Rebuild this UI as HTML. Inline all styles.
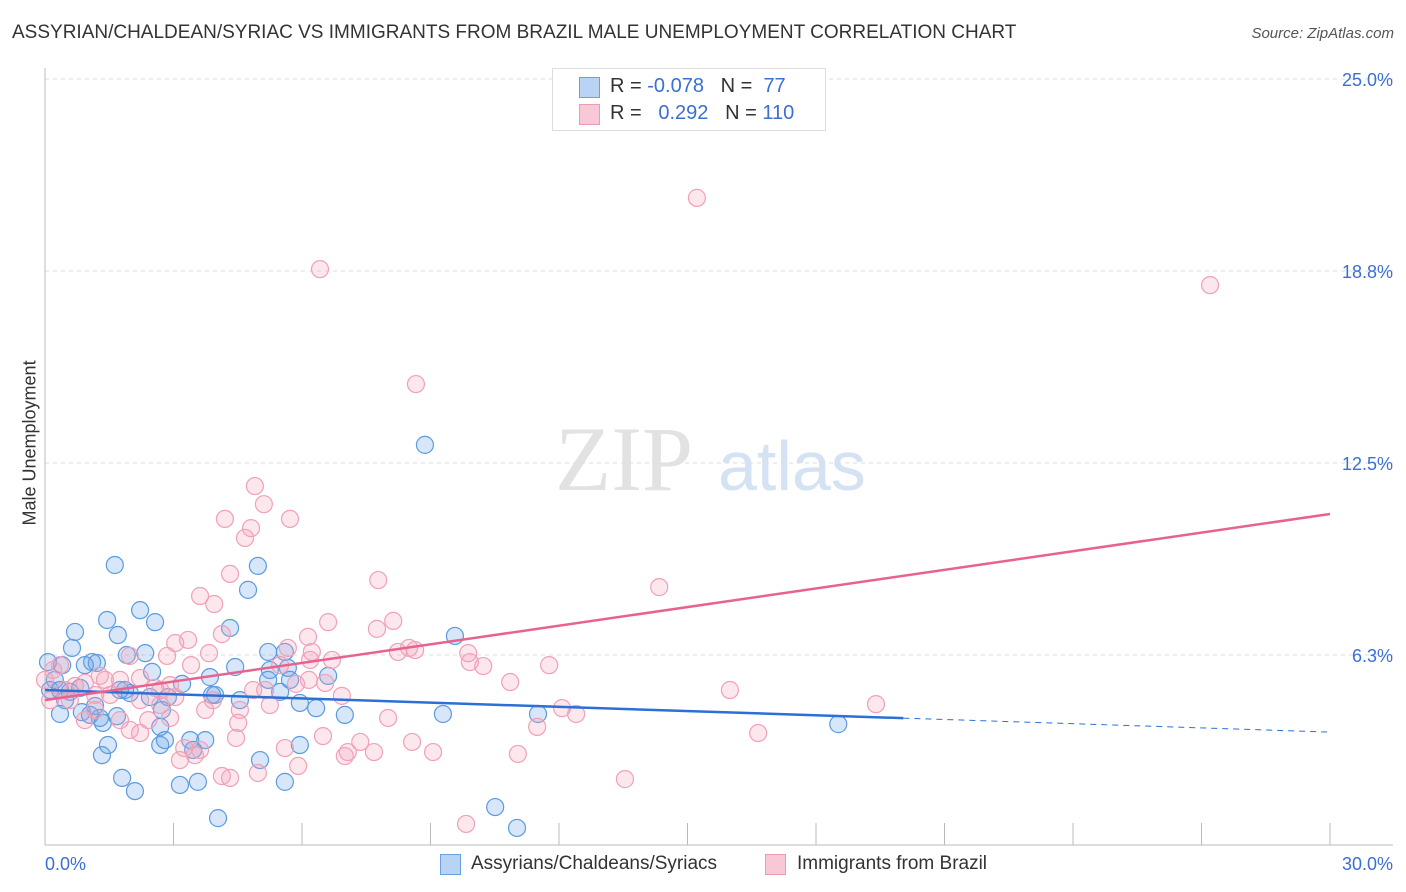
<!DOCTYPE html>
<html><head><meta charset="utf-8"><style>
body{margin:0;background:#fff;font-family:"Liberation Sans",sans-serif}
#wrap{position:relative;width:1406px;height:892px;overflow:hidden}
.t{position:absolute;white-space:nowrap}
</style></head><body>
<div id="wrap">
<div class="t" style="left:12px;top:22px;font-size:19px;color:#333">ASSYRIAN/CHALDEAN/SYRIAC VS IMMIGRANTS FROM BRAZIL MALE UNEMPLOYMENT CORRELATION CHART</div>
<div class="t" style="right:12px;top:25px;font-size:15px;color:#555;font-style:italic">Source: ZipAtlas.com</div>
<div class="t" style="left:-40px;top:445px;font-size:18px;color:#333;transform:rotate(-90deg);width:140px;text-align:center">Male Unemployment</div>
<svg id="svg" width="1406" height="892" style="position:absolute;left:0;top:0">
<text x="555" y="490" font-family="Liberation Serif" font-size="92" fill="#e2e2e2">ZIP</text>
<text x="718" y="490" font-family="Liberation Sans" font-size="70" fill="#d4e2f4">atlas</text>
</svg>
<div style="position:absolute;left:552px;top:68px;width:272px;height:61px;border:1px solid #ddd;background:#fff;font-size:20px">
<div style="position:absolute;left:26px;top:8px;width:19px;height:19px;background:#b8d3f3;border:1px solid #6a9fe0"></div>
<div class="t" style="left:57px;top:6px;color:#333">R = <span style="color:#3b6fd4">-0.078</span>&nbsp;&nbsp;&nbsp;N = &nbsp;<span style="color:#3b6fd4">77</span></div>
<div style="position:absolute;left:26px;top:35px;width:19px;height:19px;background:#f8c8d6;border:1px solid #ef9ab4"></div>
<div class="t" style="left:57px;top:33px;color:#333">R = &nbsp;&nbsp;<span style="color:#3b6fd4">0.292</span>&nbsp;&nbsp;&nbsp;N = <span style="color:#3b6fd4">110</span></div>
</div>
<div style="position:absolute;left:440px;top:854px;width:19px;height:19px;background:#b8d3f3;border:1px solid #6a9fe0"></div>
<div class="t" style="left:471px;top:853px;font-size:19px;color:#333">Assyrians/Chaldeans/Syriacs</div>
<div style="position:absolute;left:765px;top:854px;width:19px;height:19px;background:#f8c8d6;border:1px solid #ef9ab4"></div>
<div class="t" style="left:797px;top:853px;font-size:19px;color:#333">Immigrants from Brazil</div>
</div>
<script>
const yTicks=[25,18.75,12.5,6.25];
const yTickLabels=["25.0%","18.8%","12.5%","6.3%"];
const xTickLabels=["0.0%","30.0%"];
const blueX=[1.63,1.45,2.22,2.57,1.70,0.70,0.63,1.10,1.21,0.93,0.07,0.40,0.23,0.12,0.35,0.58,0.82,0.47,0.35,0.86,1.05,1.28,1.35,1.68,1.17,1.87,1.98,2.34,1.91,2.50,2.45,2.87,3.20,2.73,2.69,2.69,2.80,3.39,3.46,3.85,3.90,4.44,4.32,4.74,4.97,5.21,5.25,5.60,5.49,5.95,6.33,6.61,7.00,5.95,5.60,5.02,4.04,3.57,3.15,1.80,2.10,1.33,1.47,8.87,9.57,9.29,11.51,10.51,11.02,18.52,5.21,5.67,5.72,3.74,3.97,4.55,1.75];
const blueY=[9.18,7.39,7.71,7.32,6.90,7.00,6.48,6.02,5.99,5.92,6.02,5.92,5.44,5.11,5.11,5.05,5.18,4.78,4.33,4.39,4.30,4.20,4.04,4.26,4.59,5.11,5.01,6.31,6.25,5.70,4.88,4.88,5.31,4.46,3.91,3.32,3.48,3.48,3.16,5.53,4.95,5.86,7.13,8.37,9.15,6.35,5.76,6.35,5.05,4.69,4.52,5.57,4.30,3.32,2.12,2.83,0.94,2.12,2.02,2.25,1.82,2.99,3.32,13.09,6.87,4.33,4.33,1.30,0.62,4.00,5.44,5.83,5.44,3.48,4.95,4.78,5.11];
const pinkX=[15.22,6.42,27.20,8.66,4.90,5.11,4.20,5.72,4.81,4.67,4.32,3.62,3.95,7.78,14.34,6.61,8.13,7.75,4.13,3.34,3.04,3.83,2.85,3.41,1.98,2.22,2.57,1.28,1.40,1.75,0.35,0.19,0.00,0.12,0.47,0.70,0.93,1.17,1.52,2.22,2.69,2.92,3.04,2.41,1.98,2.22,2.92,3.25,3.15,3.50,3.62,3.92,3.74,4.55,4.51,4.46,4.13,4.32,4.97,4.86,5.25,5.60,5.91,6.16,6.23,5.67,5.86,6.14,6.54,6.70,6.49,7.07,7.00,7.36,7.68,6.93,8.01,8.24,8.50,9.06,9.88,9.92,10.23,10.86,11.04,11.49,11.77,12.07,12.40,13.54,15.99,16.65,19.40,9.83,8.57,8.64,1.17,0.93,0.58,2.69,1.75,5.14,6.19,5.49];
const pinkY=[21.13,18.81,18.29,15.07,11.75,11.16,10.68,10.68,10.38,10.06,8.89,8.17,7.91,8.69,8.46,7.32,7.36,7.10,6.93,6.74,6.64,6.31,6.22,5.92,6.22,5.50,5.18,5.57,5.44,5.44,5.92,5.76,5.44,4.78,5.11,5.24,5.34,4.95,4.95,4.78,5.11,5.27,4.88,4.13,3.81,3.71,4.20,3.22,2.83,2.99,3.16,4.78,4.46,4.46,4.04,3.55,2.31,2.25,2.41,5.11,4.62,3.22,2.64,5.44,6.35,6.48,5.31,6.84,5.34,6.09,3.61,3.09,2.96,3.42,3.09,4.92,4.20,6.35,6.48,3.09,6.31,6.02,5.89,5.37,3.03,3.91,5.92,4.52,4.33,2.21,5.11,3.71,4.65,0.75,3.42,6.41,4.46,4.13,4.78,4.62,4.13,5.11,6.09,5.92];
const blueTrend=[5.11,3.74];
const blueSolidEnd=20.04;
const pinkTrend=[4.78,10.84];

const X0=45,X1=1330,Y0=847,YPER=192/6.25,XMAX=30;
const sx=v=>X0+(v/XMAX)*(X1-X0);
const sy=v=>Y0-v*YPER;
const NS="http://www.w3.org/2000/svg";
const svg=document.getElementById('svg');
function mk(tag,attrs){const e=document.createElementNS(NS,tag);for(const k in attrs)e.setAttribute(k,attrs[k]);svg.appendChild(e);return e;}
yTicks.forEach((t,i)=>{
  const g=mk('line',{x1:X0,x2:1393,y1:sy(t),y2:sy(t),stroke:'#ddd','stroke-dasharray':'4,4'});
  
  
  const tx=mk('text',{x:1393,y:sy(t)+7,'text-anchor':'end','font-size':18,fill:'#3b6fd4'});
  tx.textContent=yTickLabels[i];
  
  
});
const ax=mk('line',{x1:X0,x2:X0,y1:68,y2:845,stroke:'#bbb'});


const bx=mk('line',{x1:X0,x2:1393,y1:845,y2:845,stroke:'#bbb'});


for(let i=0;i<=10;i++){
  const tk=mk('line',{x1:sx(i*3),x2:sx(i*3),y1:823,y2:845,stroke:'#bbb'});
  
  
}
[[0,'start'],[30,'end']].forEach((p,i)=>{
  const tx=mk('text',{x:i?1393:45,y:870,'text-anchor':p[1],'font-size':18,fill:'#3b6fd4'});
  tx.textContent=xTickLabels[i];
  
  
});
blueX.forEach((v,i)=>{
  const c=mk('circle',{cx:sx(v),cy:sy(blueY[i]),r:8.5,fill:'rgba(110,165,230,0.28)',stroke:'#5b9be0','stroke-width':1.2});
  
  
});
pinkX.forEach((v,i)=>{
  const c=mk('circle',{cx:sx(v),cy:sy(pinkY[i]),r:8.5,fill:'rgba(245,160,185,0.25)',stroke:'#f0a0b8','stroke-width':1.2});
  
  
});
const bAt=x=>blueTrend[0]+(blueTrend[1]-blueTrend[0])*x/XMAX;
const l1=mk('line',{x1:sx(0),y1:sy(bAt(0)),x2:sx(blueSolidEnd),y2:sy(bAt(blueSolidEnd)),stroke:'#2c6fd6','stroke-width':2.5});


const l2=mk('line',{x1:sx(blueSolidEnd),y1:sy(bAt(blueSolidEnd)),x2:sx(30),y2:sy(bAt(30)),stroke:'#2c6fd6','stroke-width':1,'stroke-dasharray':'6,5'});


const l3=mk('line',{x1:sx(0),y1:sy(pinkTrend[0]),x2:sx(30),y2:sy(pinkTrend[1]),stroke:'#e8628f','stroke-width':2.5});


</script>
</body></html>
